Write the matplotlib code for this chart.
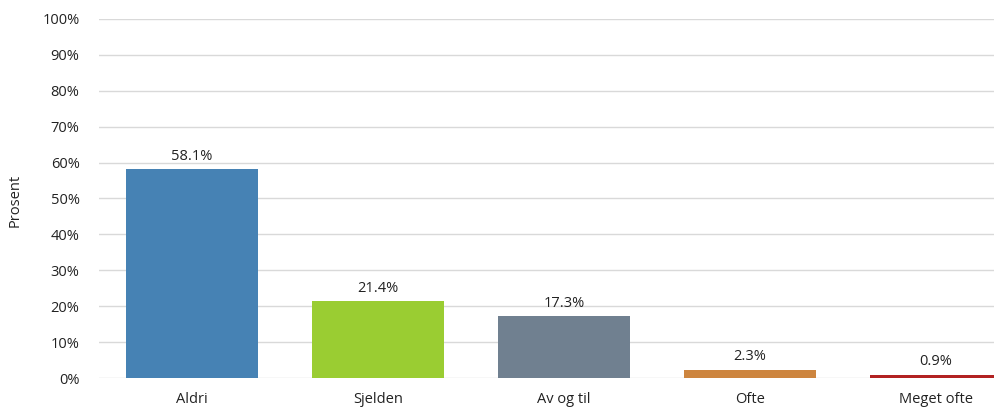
import matplotlib
matplotlib.use("Agg")
import matplotlib.pyplot as plt
from matplotlib.ticker import FuncFormatter

categories = ["Aldri", "Sjelden", "Av og til", "Ofte", "Meget ofte"]
values = [58.1, 21.4, 17.3, 2.3, 0.9]
colors = ["#4682B4", "#9ACD32", "#708090", "#CD853F", "#B22222"]
y_ticks = list(range(0, 101, 10))

plt.rcParams["font.family"] = ["Open Sans", "DejaVu Sans"]

fig = plt.figure(figsize=(9.94, 4.15), dpi=100)
# plot area runs past the right edge, as in the original crop
ax = fig.add_axes([99 / 994, 37 / 415, 930 / 994, 359 / 415])

x = range(len(categories))
bars = ax.bar(x, values, width=0.715, color=colors, zorder=3)

for bar, v in zip(bars, values):
    ax.text(bar.get_x() + bar.get_width() / 2, v + 1.5, f"{v:.1f}%",
            ha="center", va="bottom", fontsize=10.5, color="#222222")

ax.set_xlim(-0.5, len(categories) - 0.5)
ax.set_ylim(0, 100)
ax.set_yticks(y_ticks)
ax.yaxis.set_major_formatter(FuncFormatter(lambda v, _: f"{v:.0f}%"))
ax.set_xticks(list(x))
ax.set_xticklabels(categories)
ax.tick_params(axis="both", length=0, labelsize=10.5, colors="#222222")
ax.tick_params(axis="y", pad=14)
ax.tick_params(axis="x", pad=10)

ax.grid(axis="y", color="#d9d9d9", linewidth=1, zorder=0)
for s in ax.spines.values():
    s.set_visible(False)

fig.text(15 / 994, 1 - 200 / 415, "Prosent", rotation=90, ha="center",
         va="center", fontsize=10.5, color="#222222")

fig.savefig("out.png", dpi=100)
